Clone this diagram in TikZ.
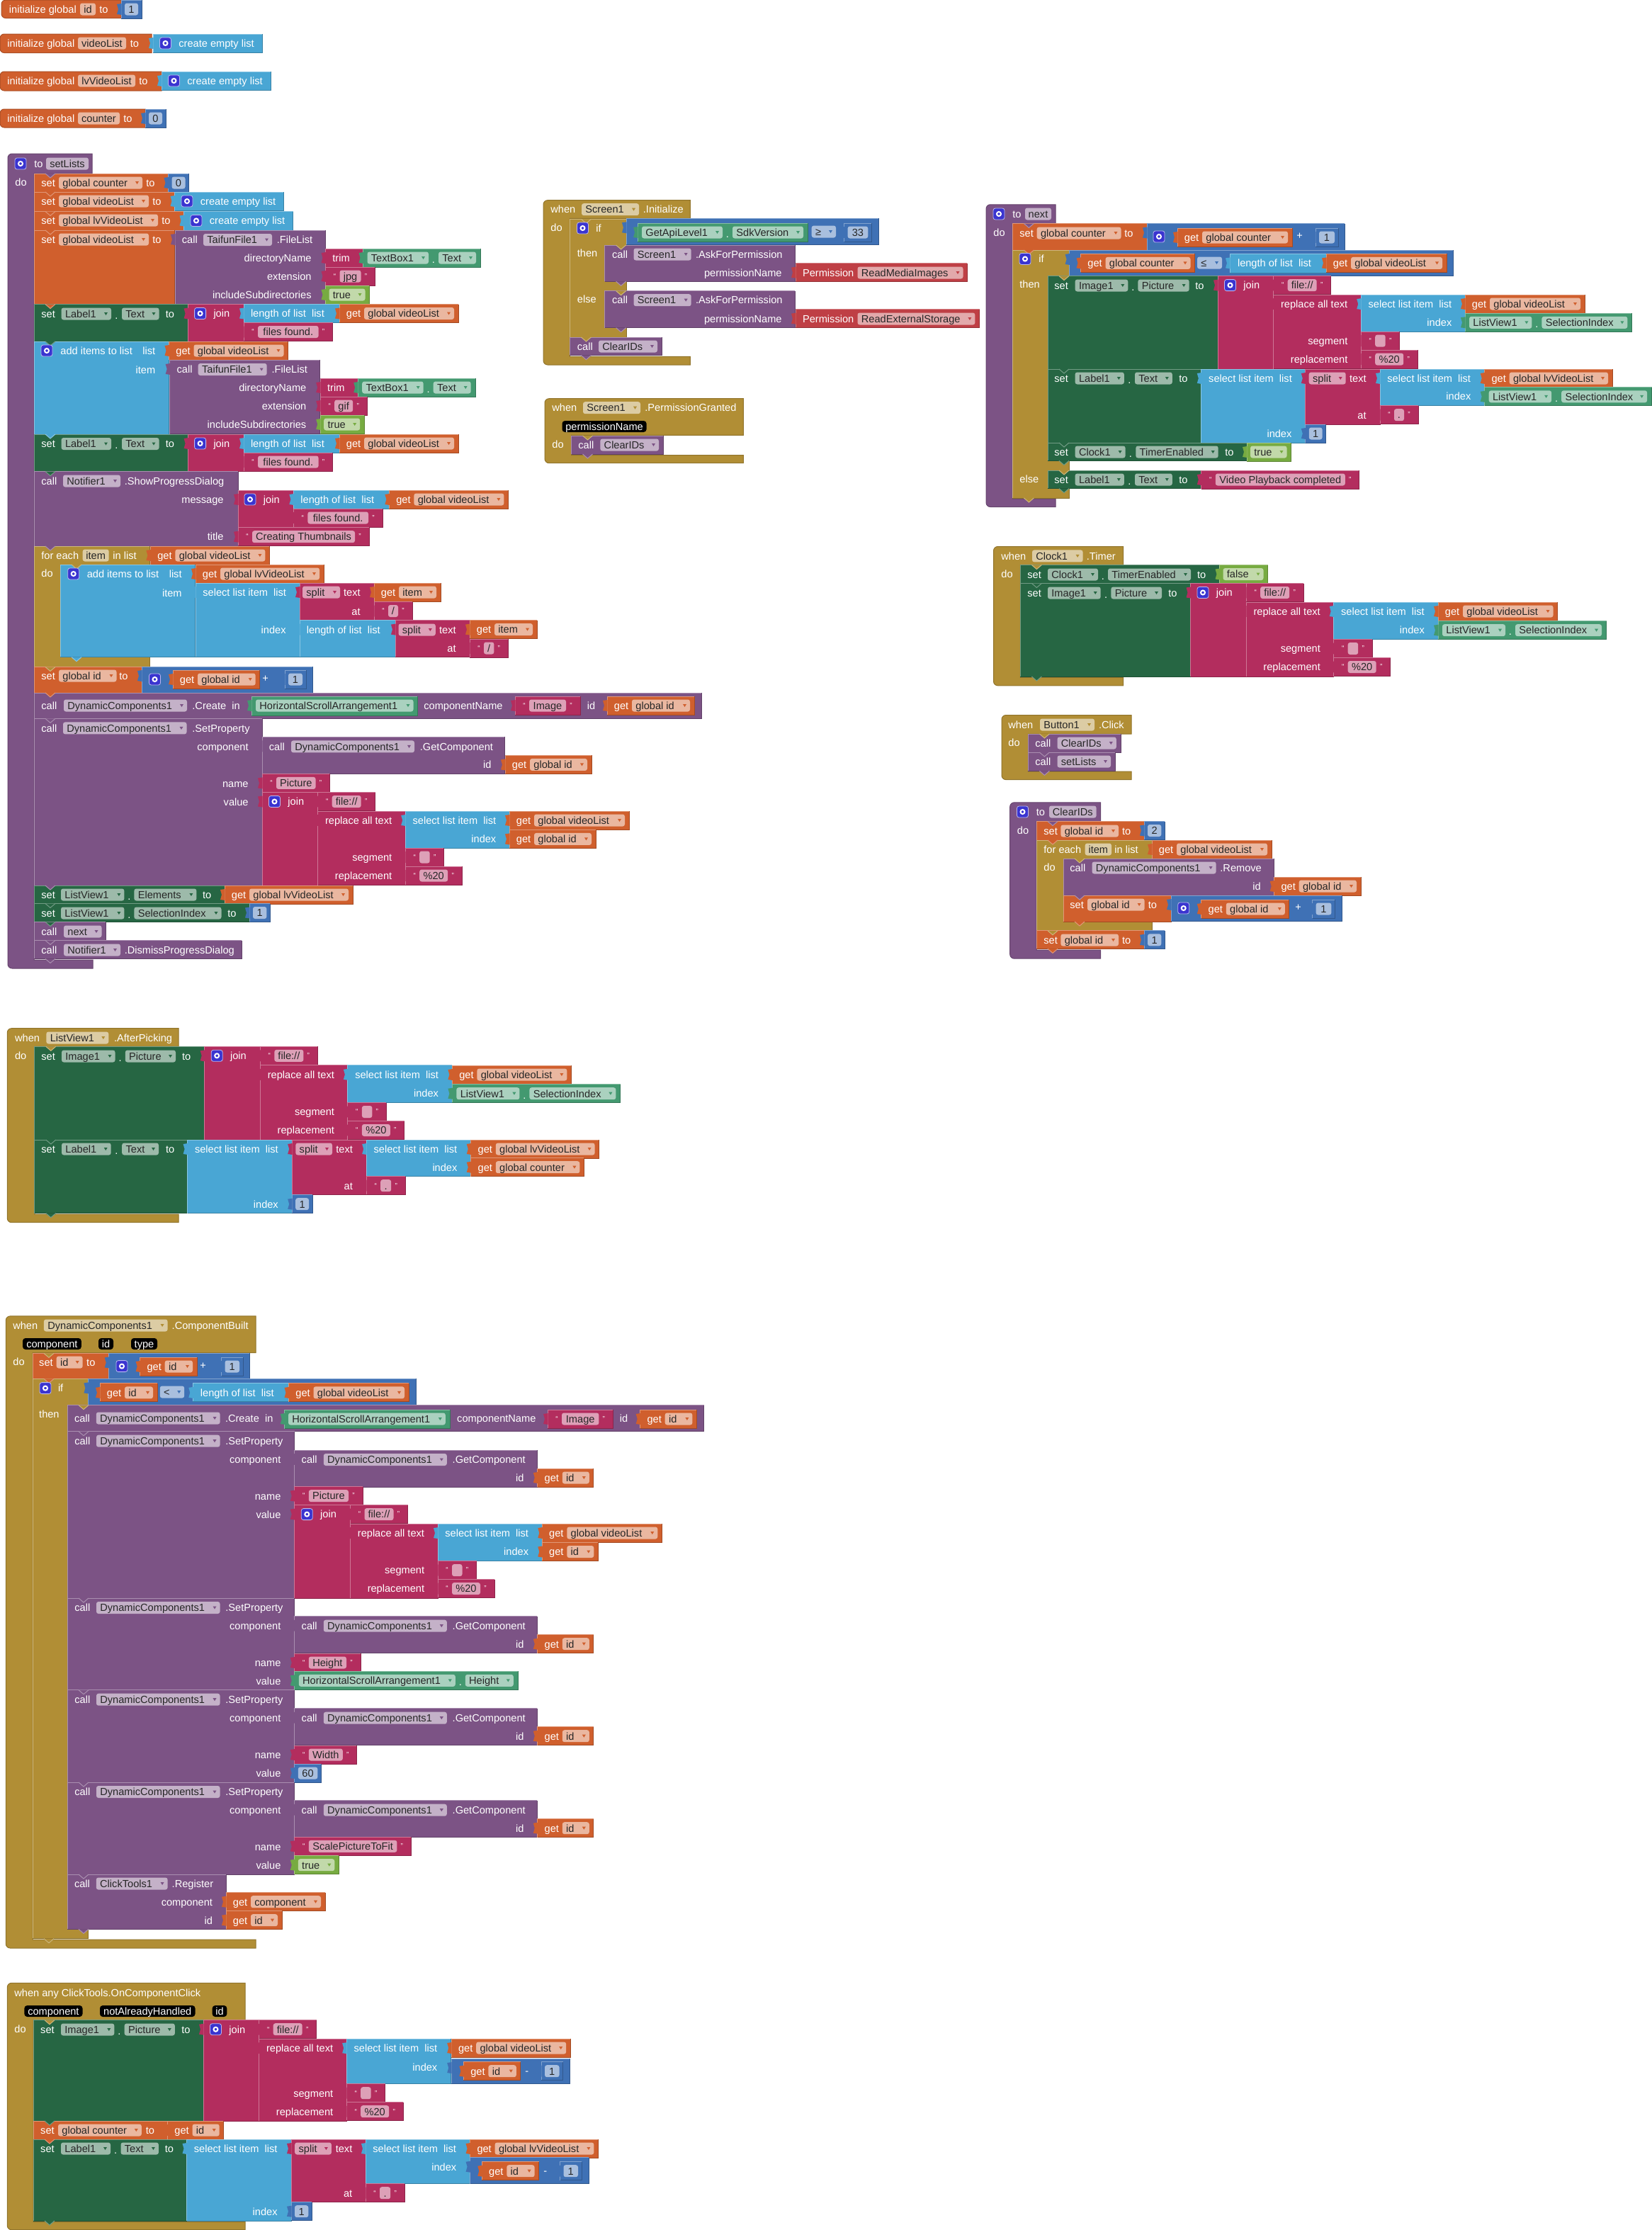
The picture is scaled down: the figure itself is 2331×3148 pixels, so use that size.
\documentclass[tikz,border=0pt]{standalone}
\usepackage{fontspec}
\setmainfont{Liberation Sans}
\definecolor{orng}{HTML}{D05F2D}
\definecolor{mblu}{HTML}{3F71B5}
\definecolor{lblu}{HTML}{49A6D4}
\definecolor{mgnt}{HTML}{B32D5E}
\definecolor{prpl}{HTML}{7C5385}
\definecolor{dgrn}{HTML}{266643}
\definecolor{pgrn}{HTML}{439970}
\definecolor{bgrn}{HTML}{77AB41}
\definecolor{gold}{HTML}{B18E35}
\definecolor{redd}{HTML}{BF3F45}
\definecolor{gearc}{HTML}{3A34D0}
\newcounter{nn}
\tikzset{
  wtxt/.style={text=white,inner sep=0pt,font=\fontsize{7.3}{8}\selectfont},
  ctxt/.style={text=black!85,inner sep=0pt,font=\fontsize{7.3}{8}\selectfont},
  edge/.style={line width=.5pt}
}
\newcommand{\lbl}[3]{\stepcounter{nn}\node[wtxt,anchor=mid west] (n\thenn) at ({#1},{#2}) {#3};}
\newcommand{\rlbl}[3]{\stepcounter{nn}\node[wtxt,anchor=mid east] (n\thenn) at ({#1},{#2}) {#3};}
\newcommand{\cnt}[3]{\stepcounter{nn}\node[wtxt,anchor=mid] (n\thenn) at ({#1},{#2}) {#3};}
\newcommand{\blk}[5]{\fill[#1] (#2,#3) rectangle (#4,#5);
  \draw[#1!65!white,edge] (#2,#5) -- (#2,#3) -- (#4,#3);
  \draw[#1!78!black,edge] (#4,#3) -- (#4,#5) -- (#2,#5);}
\newcommand{\vb}[5]{\blk{#1}{#2}{#3}{#4}{#5}
  \fill[#1] (#2+.5,#3+5) -- (#2-6,#3+6) -- (#2-4,#3+13) -- (#2-6,#3+20) -- (#2+.5,#3+21) -- cycle;}
\newcommand{\ntch}[3]{\fill[#1] (#2+16,#3) -- (#2+30,#3) -- (#2+23,#3+6) -- cycle;
  \draw[#1!65!white,edge] (#2+16,#3) -- (#2+23,#3+6) -- (#2+30,#3);}
\newcommand{\stm}[6]{\blk{#1}{#3}{#4}{#5}{#6}\ntch{#2}{#3}{#4}}
\newcommand{\cblk}[9]{\fill[#1,draw=#1!82!black,edge] (#4,#3) -- (#4,#5) -- (#6,#5) -- (#6,#7) -- (#9,#7) -- (#9,#8)
  [rounded corners=3pt] -- (#2,#8) -- (#2,#3) [sharp corners] -- cycle;}
\newcommand{\rnd}[5]{\fill[#1,draw=#1!82!black,edge] (#4,#3) -- (#4,#5) [rounded corners=3pt] -- (#2,#5) -- (#2,#3) [sharp corners] -- cycle;}
\newcommand{\chp}[5]{\fill[#1!45!white,rounded corners=1.5pt] (#2,#4-8.5) rectangle (#3,#4+8.5);
  \stepcounter{nn}\node[ctxt,anchor=mid west] (n\thenn) at ({#2+5},{#4}) {#5};
  \fill[#1] (#3-10,#4-2) -- (#3-5,#4-2) -- (#3-7.5,#4+2) -- cycle;}
\newcommand{\fch}[5]{\fill[#1!45!white,rounded corners=1.5pt] (#2,#4-8.5) rectangle (#3,#4+8.5);
  \stepcounter{nn}\node[ctxt,anchor=mid] (n\thenn) at ({(#2+#3)/2},{#4}) {#5};}
\newcommand{\blab}[4]{\fill[black,rounded corners=2pt] (#1,#3-8) rectangle (#2,#3+8);
  \cnt{(#1+#2)/2}{#3}{#4}}
\newcommand{\gear}[2]{\fill[gearc,draw=white!65!gearc,rounded corners=1.5pt,line width=.4pt] (#1,#2-8) rectangle (#1+16,#2+8);
  \draw[white,line width=1pt] (#1+8,#2) circle (1.5pt);}
\newcommand{\getb}[4]{\vb{orng}{#1}{#2}{#1+#3}{#2+26}\lbl{#1+9.5}{#2+13}{get}\chp{orng}{#1+35}{#1+#3-6}{#2+13}{#4}}
\newcommand{\strb}[4]{\vb{mgnt}{#1}{#2}{#1+#3}{#2+26}\cnt{#1+13}{#2+11}{\tiny“}\cnt{#1+#3-13}{#2+11}{\tiny”}
  \fch{mgnt}{#1+20}{#1+#3-20}{#2+13}{#4}}
\newcommand{\numb}[4]{\vb{mblu}{#1}{#2}{#1+#3}{#2+26}\fch{mblu}{#1+5}{#1+#3-5}{#2+13}{#4}}
\newcommand{\boolb}[4]{\vb{bgrn}{#1}{#2}{#1+#3}{#2+26}\chp{bgrn}{#1+5}{#1+#3-6}{#2+13}{#4}}
\newcommand{\propb}[6]{\pgfmathsetmacro{\pa}{#1+6+#4}\pgfmathsetmacro{\pb}{\pa+14}\pgfmathsetmacro{\pc}{\pb+#6}
  \vb{pgrn}{#1}{#2}{\pc+6.5}{#2+26}\chp{pgrn}{#1+6}{\pa}{#2+13}{#3}\cnt{\pa+7}{#2+15}{.}\chp{pgrn}{\pb}{\pc}{#2+13}{#5}}
\newcommand{\mkl}[2]{\vb{lblu}{#1}{#2}{#1+154}{#2+26.5}\gear{#1+9.5}{#2+13}\lbl{#1+36}{#2+13}{create empty list}}
\newcommand{\stpr}[9]{\lbl{#1}{#2}{set}\chp{dgrn}{#3}{#4}{#2}{#5}\cnt{(#4+#6)/2}{#2+2}{.}\chp{dgrn}{#6}{#7}{#2}{#8}\lbl{#9}{#2}{to}}
\newcommand{\slct}[5]{\vb{lblu}{#1}{#3}{#2}{#4}\lbl{#1+10}{#3+13}{select list item\ \ list}\rlbl{#2-19}{#5}{index}}
\newcommand{\rplc}[3]{\vb{mgnt}{#1}{#2}{#1+123.5}{#2+#3+52.5}\lbl{#1+10}{#2+13}{replace all text}
  \slct{#1+123.5}{#1+271}{#2}{#2+#3}{#2+39.5}
  \rlbl{#1+105}{#2+#3+13}{segment}\rlbl{#1+105}{#2+#3+39}{replacement}
  \strb{#1+123.5}{#2+#3}{54.5}{}\strb{#1+123.5}{#2+#3+26}{80}{\%20}}
\newcommand{\jrp}[4]{\vb{mgnt}{#1}{#2}{#1+78.7}{#2+#3}\gear{#1+9.5}{#2+13}\lbl{#1+36}{#2+13}{join}
  \strb{#1+78.7}{#2}{81}{file://}\rplc{#1+78.7}{#2+26.5}{#4}}
\newcommand{\jlen}[2]{\vb{mgnt}{#1}{#2}{#1+78.4}{#2+52.5}\gear{#1+9}{#2+13}\lbl{#1+35.5}{#2+13}{join}
  \vb{lblu}{#1+78.4}{#2}{#1+213.4}{#2+26}\lbl{#1+88}{#2+13}{length of list\ \ list}
  \getb{#1+213.4}{#2}{168}{global videoList}\strb{#1+78.4}{#2+26}{125.6}{files found.}}
\newcommand{\flist}[4]{\vb{prpl}{#1}{#2}{#1+212}{#2+104.5}\lbl{#1+9.5}{#2+13.5}{call}\chp{prpl}{#1+40}{#1+137}{#2+13.5}{TaifunFile1}\lbl{#1+143.5}{#2+13.5}{.FileList}
  \rlbl{#1+193}{#2+39.5}{directoryName}\rlbl{#1+193}{#2+65.5}{extension}\rlbl{#1+193}{#2+91.5}{includeSubdirectories}
  \vb{mgnt}{#1+212.5}{#2+26}{#1+265.5}{#2+52}\lbl{#1+222}{#2+39}{trim}\propb{#1+265.5}{#2+26}{TextBox1}{86.5}{Text}{53}
  \strb{#1+212.5}{#2+52}{#4}{#3}\boolb{#1+212.5}{#2+78}{62}{true}}
\newcommand{\gcmp}[4]{\vb{prpl}{#1}{#2}{#1+342.5}{#2+52}\lbl{#1+9.5}{#2+13.5}{call}\chp{prpl}{#1+41}{#1+215}{#2+13.5}{DynamicComponents1}\lbl{#1+222.5}{#2+13.5}{.GetComponent}
  \rlbl{#1+324}{#2+39}{id}\getb{#1+343}{#2+26}{#4}{#3}}
\newcommand{\spty}[5]{\stm{prpl}{#5}{#1}{#3}{#2}{#4}\lbl{#1+10}{#3+13.5}{call}\chp{prpl}{#1+41}{#1+215.5}{#3+13.5}{DynamicComponents1}\lbl{#1+223}{#3+13.5}{.SetProperty}
  \rlbl{#2-19}{#3+39.5}{component}\rlbl{#2-19}{#3+91.5}{name}\rlbl{#2-19}{#3+117.5}{value}}
\begin{document}
\begin{tikzpicture}[x=.5pt,y=-.5pt]
\useasboundingbox (0,0) rectangle (2331,3148);
\rnd{orng}{2}{0}{171}{25.5}
\lbl{12.5}{13}{initialize global}
\fch{orng}{113}{135}{13}{id}
\lbl{140}{13}{to}
\numb{171}{0}{29}{1}
\rnd{orng}{0}{48}{214}{74.5}
\lbl{10}{61}{initialize global}
\fch{orng}{110}{178}{61}{videoList}
\lbl{183.5}{61}{to}
\mkl{216}{48}
\rnd{orng}{0}{101}{228}{128}
\lbl{10}{114}{initialize global}
\fch{orng}{110}{191}{114}{lvVideoList}
\lbl{196}{114}{to}
\mkl{228}{101}
\rnd{orng}{0}{154}{205}{180}
\lbl{10}{167}{initialize global}
\fch{orng}{110}{169}{167}{counter}
\lbl{174}{167}{to}
\numb{205}{154}{29}{0}
\cblk{prpl}{11}{217}{130}{245}{48}{1355}{1367}{131}
\gear{21}{231}
\lbl{48}{231}{to}
\fch{prpl}{65}{125}{231}{setLists}
\lbl{21}{257}{do}
\stm{orng}{prpl}{48}{245}{237.5}{271}
\lbl{58}{258}{set}
\chp{orng}{83}{201}{258}{global counter}
\lbl{206}{258}{to}
\numb{237.5}{245}{29}{0}
\stm{orng}{orng}{48}{271}{246.5}{298.5}
\lbl{58}{284}{set}
\chp{orng}{83}{210}{284}{global videoList}
\lbl{215}{284}{to}
\mkl{246.5}{271}
\stm{orng}{orng}{48}{298.5}{259.5}{325}
\lbl{58}{311}{set}
\chp{orng}{83}{223}{311}{global lvVideoList}
\lbl{228}{311}{to}
\mkl{259.5}{298.5}
\stm{orng}{orng}{48}{325}{246.5}{429.5}
\lbl{58}{338}{set}
\chp{orng}{83}{210}{338}{global videoList}
\lbl{215}{338}{to}
\flist{247}{325}{jpg}{70}
\stm{dgrn}{orng}{48}{429.5}{265}{482}
\stpr{58}{443}{86.6}{157}{Label1}{172}{224.5}{Text}{233.5}
\jlen{265.6}{429.5}
\stm{lblu}{dgrn}{48}{482}{238.5}{613}
\gear{58}{495}
\lbl{85}{495}{add items to list}
\rlbl{219.6}{495}{list}
\rlbl{219.6}{522}{item}
\getb{238.5}{482}{168}{global videoList}
\flist{239.7}{508}{gif}{66}
\stm{dgrn}{lblu}{48}{613}{265}{665.6}
\stpr{58}{626.5}{86.6}{157}{Label1}{172}{224.5}{Text}{233.5}
\jlen{265.6}{613}
\stm{prpl}{dgrn}{48}{665.6}{336}{771}
\lbl{58}{679}{call}
\chp{prpl}{89}{170}{679}{Notifier1}
\lbl{175.5}{679}{.ShowProgressDialog}
\rlbl{316}{705}{message}
\rlbl{316}{757.7}{title}
\jlen{336}{692}
\strb{336}{744.7}{185}{Creating Thumbnails}
\stm{gold}{prpl}{48}{771}{211}{941.5}
\lbl{58}{784}{for each}
\fch{gold}{116.7}{153.7}{784}{item}
\lbl{159}{784}{in list}
\getb{212.4}{771}{168}{global videoList}
\lbl{58}{809}{do}
\stm{lblu}{gold}{85}{797}{275.5}{927.6}
\gear{95.7}{810}
\lbl{122.4}{810}{add items to list}
\rlbl{257}{810}{list}
\rlbl{257}{837}{item}
\getb{276}{797}{181}{global lvVideoList}
\slct{276}{423}{823}{927.6}{889}
\vb{mgnt}{423}{823}{528}{875.6}
\chp{mgnt}{427}{480}{836}{split}
\rlbl{509}{836}{text}
\rlbl{509}{863}{at}
\getb{528}{823}{94}{item}
\strb{528}{849.5}{54}{/}
\vb{lblu}{423}{875.6}{558}{927.6}
\lbl{432.4}{889}{length of list\ \ list}
\vb{mgnt}{558}{875.6}{663}{927.6}
\chp{mgnt}{562.5}{614.8}{889}{split}
\rlbl{644}{889}{text}
\rlbl{644}{915}{at}
\getb{663}{875.6}{95}{item}
\strb{663}{902}{54.4}{/}
\ntch{lblu}{85}{927.6}
\stm{orng}{gold}{48}{941.5}{200}{978}
\lbl{58}{954}{set}
\chp{orng}{83}{164.5}{954}{global id}
\lbl{168}{954}{to}
\vb{mblu}{200}{941}{441}{978}
\gear{210.5}{959}
\getb{244}{946}{122.7}{global id}
\lbl{370}{957}{+}
\numb{402}{946}{30}{1}
\stm{prpl}{orng}{48}{978}{990}{1014.4}
\lbl{58}{996}{call}
\chp{prpl}{90}{264}{996}{DynamicComponents1}
\lbl{271}{996}{.Create}
\lbl{327}{996}{in}
\vb{pgrn}{355}{983}{589}{1010}
\chp{pgrn}{361}{583.5}{996}{HorizontalScrollArrangement1}
\lbl{598}{996}{componentName}
\strb{727}{983}{92}{Image}
\lbl{828.5}{996}{id}
\getb{857}{983}{123}{global id}
\spty{48}{370}{1014.4}{1250}{prpl}
\gcmp{370}{1040.4}{global id}{122}
\strb{370}{1092.4}{95.6}{Picture}
\jrp{370}{1118.5}{131.5}{52}
\getb{719}{1145}{169}{global videoList}
\getb{719}{1171.4}{122}{global id}
\stm{dgrn}{prpl}{48}{1250}{317}{1275.5}
\stpr{58}{1263}{86}{175.4}{ListView1}{189.4}{277.4}{Elements}{285.7}
\getb{317}{1250}{181}{global lvVideoList}
\stm{dgrn}{dgrn}{48}{1275.5}{352}{1301.5}
\stpr{58}{1289}{86}{175.4}{ListView1}{189.4}{312.5}{SelectionIndex}{321}
\numb{352}{1275.5}{29.4}{1}
\stm{prpl}{dgrn}{48}{1301.5}{149}{1327.5}
\lbl{58}{1315}{call}
\chp{prpl}{90}{143.5}{1315}{next}
\stm{prpl}{prpl}{48}{1327.5}{341}{1353.5}
\lbl{58}{1341}{call}
\chp{prpl}{90}{170}{1341}{Notifier1}
\lbl{175.4}{1341}{.DismissProgressDialog}
\ntch{prpl}{48}{1353.5}
\cblk{gold}{767}{282.7}{974.4}{308.3}{804.4}{503.3}{515}{974.4}
\lbl{777}{295.7}{when}
\chp{gold}{821}{902}{295.7}{Screen1}
\lbl{907.5}{295.7}{.Initialize}
\lbl{777}{321}{do}
\stm{gold}{gold}{804.4}{309.3}{884}{476}
\gear{814.5}{322}
\lbl{841}{322}{if}
\lbl{814.5}{357.7}{then}
\lbl{814.5}{422.7}{else}
\vb{mblu}{884}{308.3}{1240}{345.7}
\propb{900}{315}{GetApiLevel1}{114}{SdkVersion}{100}
\chp{mblu}{1145.7}{1180}{327}{≥}
\numb{1191.6}{315}{38.7}{33}
\stm{prpl}{gold}{853.6}{346}{1122}{397.3}
\lbl{863.7}{359}{call}
\chp{prpl}{894.5}{975.7}{359}{Screen1}
\lbl{981.6}{359}{.AskForPermission}
\rlbl{1104}{385}{permissionName}
\vb{redd}{1123}{371.7}{1365.4}{397.3}
\lbl{1132.7}{385}{Permission}
\chp{redd}{1210.5}{1359.5}{385}{ReadMediaImages}
\ntch{prpl}{853.6}{397.3}
\stm{prpl}{gold}{853.6}{410.7}{1122}{462.7}
\lbl{863.7}{423.7}{call}
\chp{prpl}{894.5}{975.7}{423.7}{Screen1}
\lbl{981.6}{423.7}{.AskForPermission}
\rlbl{1104}{450}{permissionName}
\vb{redd}{1123}{436.7}{1382.7}{462.7}
\lbl{1132.7}{450}{Permission}
\chp{redd}{1210.5}{1376.4}{450}{ReadExternalStorage}
\ntch{prpl}{853.6}{462.7}
\stm{prpl}{gold}{804.4}{476}{934.4}{501.7}
\lbl{814.5}{489}{call}
\chp{prpl}{845}{928}{489}{ClearIDs}
\ntch{prpl}{804.4}{501.7}
\cblk{gold}{769}{562.7}{1049.4}{614.3}{806.5}{642.7}{653.7}{1049.4}
\lbl{779}{575.7}{when}
\chp{gold}{823}{904}{575.7}{Screen1}
\lbl{910}{575.7}{.PermissionGranted}
\blab{793.5}{912.6}{602}{permissionName}
\lbl{779}{627}{do}
\stm{prpl}{gold}{806.5}{615}{936.5}{641}
\lbl{816}{628}{call}
\chp{prpl}{847.3}{930}{628}{ClearIDs}
\ntch{prpl}{806.5}{641}
\cblk{prpl}{1392}{288.75}{1490}{315.5}{1429.4}{704}{715.5}{1490}
\gear{1402}{302}
\lbl{1429}{302}{to}
\fch{prpl}{1447}{1484}{302}{next}
\lbl{1402}{328}{do}
\stm{orng}{prpl}{1429.4}{315.5}{1619}{353}
\lbl{1439}{329}{set}
\chp{orng}{1463.7}{1582.5}{329}{global counter}
\lbl{1587}{329}{to}
\vb{mblu}{1619}{315.5}{1898}{353}
\gear{1628}{334}
\getb{1662}{322}{162}{global counter}
\lbl{1830}{332}{+}
\numb{1857}{322}{32}{1}
\stm{gold}{orng}{1429.4}{353}{1509.6}{703}
\gear{1439}{365.5}
\lbl{1466}{365.5}{if}
\lbl{1439}{401.7}{then}
\lbl{1439}{675.8}{else}
\vb{mblu}{1509.6}{353}{2051.6}{389.6}
\getb{1525.5}{358.4}{161}{global counter}
\chp{mblu}{1690}{1725}{371}{≤}
\vb{lblu}{1736}{358.4}{1872}{385}
\lbl{1746.6}{371.4}{length of list\ \ list}
\getb{1872}{358.4}{170}{global videoList}
\stm{dgrn}{gold}{1479}{389.6}{1719}{521}
\stpr{1488}{403}{1517.6}{1592.3}{Image1}{1606.4}{1678.6}{Picture}{1687}
\jrp{1719}{389.6}{131.4}{52}
\getb{2068}{416}{169}{global videoList}
\propb{2068}{442.3}{ListView1}{88.4}{SelectionIndex}{121}
\stm{dgrn}{dgrn}{1479}{521}{1695.8}{625}
\stpr{1488}{534}{1517.6}{1586.8}{Label1}{1602}{1654.8}{Text}{1664}
\slct{1695.8}{1842.8}{521}{625}{612}
\vb{mgnt}{1842.8}{521}{1948}{599}
\chp{mgnt}{1847.7}{1899.7}{534}{split}
\rlbl{1929}{534}{text}
\rlbl{1929}{586}{at}
\slct{1948}{2095.7}{521}{572.7}{559.7}
\getb{2095.7}{521}{180.3}{global lvVideoList}
\propb{2095.7}{546.8}{ListView1}{88.4}{SelectionIndex}{121}
\strb{1948}{572.7}{54}{.}
\numb{1842.8}{599}{28.7}{1}
\stm{dgrn}{dgrn}{1479}{625}{1760}{650.4}
\stpr{1488}{638}{1517.6}{1588.6}{Clock1}{1603.3}{1719.7}{TimerEnabled}{1729}
\boolb{1760}{625}{62.5}{true}
\ntch{dgrn}{1479}{650.4}
\stm{dgrn}{gold}{1479}{664}{1695.8}{689.6}
\stpr{1488}{677}{1517.6}{1586.8}{Label1}{1602}{1654.8}{Text}{1664}
\strb{1695.8}{664}{223}{Video Playback completed}
\ntch{dgrn}{1479}{689.6}
\ntch{gold}{1429.4}{703}
\cblk{gold}{1402.5}{771.5}{1585.5}{797.5}{1440.4}{956.3}{967.8}{1585.5}
\lbl{1413}{784.9}{when}
\chp{gold}{1457}{1528.6}{784.9}{Clock1}
\lbl{1533.5}{784.9}{.Timer}
\lbl{1413}{810}{do}
\stm{dgrn}{gold}{1440.4}{797.5}{1721.5}{823.5}
\stpr{1450}{811}{1479}{1550}{Clock1}{1564}{1681}{TimerEnabled}{1689.7}
\boolb{1721.5}{797.5}{68}{false}
\stm{dgrn}{dgrn}{1440.4}{823.5}{1680.5}{955}
\stpr{1450}{837}{1479}{1553.7}{Image1}{1568.4}{1640}{Picture}{1649}
\jrp{1680.5}{823.5}{131.5}{52.5}
\getb{2030}{850}{168.5}{global videoList}
\propb{2030}{876.7}{ListView1}{89}{SelectionIndex}{122}
\ntch{dgrn}{1440.4}{955}
\cblk{gold}{1414}{1009.5}{1597}{1036}{1451.4}{1089}{1100.6}{1597}
\lbl{1423}{1023}{when}
\chp{gold}{1468}{1545}{1023}{Button1}
\lbl{1550.6}{1023}{.Click}
\lbl{1423}{1048}{do}
\stm{prpl}{gold}{1451.4}{1036}{1582}{1062}
\lbl{1461}{1049}{call}
\chp{prpl}{1492.5}{1575.8}{1049}{ClearIDs}
\stm{prpl}{prpl}{1451.4}{1062}{1574.5}{1088.3}
\lbl{1461}{1075}{call}
\chp{prpl}{1492.5}{1568}{1075}{setLists}
\ntch{prpl}{1451.4}{1088.3}
\cblk{prpl}{1425.7}{1132.8}{1553.7}{1159.5}{1463}{1341}{1353.2}{1553.7}
\gear{1435.5}{1146}
\lbl{1462.5}{1146}{to}
\fch{prpl}{1481}{1547.6}{1146}{ClearIDs}
\lbl{1435.5}{1172}{do}
\stm{orng}{prpl}{1463}{1159.5}{1615}{1186}
\lbl{1473}{1173}{set}
\chp{orng}{1497.4}{1579}{1173}{global id}
\lbl{1583.7}{1173}{to}
\numb{1615}{1159.5}{29.3}{2}
\stm{gold}{orng}{1463}{1186}{1626}{1313.8}
\lbl{1473}{1199}{for each}
\fch{gold}{1531.7}{1569}{1199}{item}
\lbl{1573}{1199}{in list}
\getb{1626}{1186}{169}{global videoList}
\lbl{1473}{1224}{do}
\stm{prpl}{gold}{1501}{1212}{1798.7}{1264}
\lbl{1510}{1225}{call}
\chp{prpl}{1541.5}{1716.6}{1225}{DynamicComponents1}
\lbl{1722}{1225}{.Remove}
\rlbl{1780}{1251}{id}
\getb{1798.7}{1238}{122.3}{global id}
\stm{orng}{prpl}{1501}{1264}{1653}{1301}
\lbl{1510}{1277}{set}
\chp{orng}{1535}{1615.6}{1277}{global id}
\lbl{1620.5}{1277}{to}
\vb{mblu}{1653}{1264}{1894}{1300.8}
\gear{1662.7}{1282}
\getb{1695.8}{1270}{124}{global id}
\lbl{1828}{1280}{+}
\numb{1852.6}{1270}{31.8}{1}
\ntch{orng}{1501}{1301}
\stm{orng}{gold}{1463}{1313.8}{1615}{1339.4}
\lbl{1473}{1327}{set}
\chp{orng}{1497.4}{1579}{1327}{global id}
\lbl{1583.7}{1327}{to}
\numb{1615}{1313.8}{29.3}{1}
\ntch{orng}{1463}{1339.4}
\cblk{gold}{10.3}{1451.7}{252}{1477.3}{48.8}{1714}{1725.7}{252}
\lbl{20.7}{1465}{when}
\chp{gold}{65.4}{153.3}{1465}{ListView1}
\lbl{160.7}{1465}{.AfterPicking}
\lbl{20.7}{1490}{do}
\stm{dgrn}{gold}{48.8}{1477.3}{288.7}{1609}
\stpr{58}{1491}{87}{162.5}{Image1}{176.8}{248}{Picture}{256.6}
\jrp{288.7}{1477.3}{131.7}{52.7}
\getb{638.4}{1504}{168}{global videoList}
\propb{638.4}{1530.7}{ListView1}{89}{SelectionIndex}{122}
\stm{dgrn}{dgrn}{48.8}{1609}{264.6}{1712.7}
\stpr{58}{1622}{87}{156.7}{Label1}{172.2}{224}{Text}{233.6}
\slct{264.6}{412.2}{1609}{1712.7}{1700}
\vb{mgnt}{412.2}{1609}{517.2}{1686.7}
\chp{mgnt}{417.3}{469}{1622}{split}
\rlbl{498.3}{1622}{text}
\rlbl{498.3}{1674}{at}
\slct{517.2}{664.8}{1609}{1660.7}{1648}
\getb{664.8}{1609}{180.8}{global lvVideoList}
\getb{664.8}{1634.7}{159.6}{global counter}
\strb{517.2}{1660.7}{55}{.}
\numb{412.2}{1686.7}{28.8}{1}
\ntch{dgrn}{48.8}{1712.7}
\cblk{gold}{8.3}{1857.9}{361}{1909.6}{46}{2738}{2750}{361}
\lbl{17.9}{1871}{when}
\chp{gold}{61.9}{236.6}{1871}{DynamicComponents1}
\lbl{242.3}{1871}{.ComponentBuilt}
\blab{32}{114.8}{1897}{component}
\blab{139}{160}{1897}{id}
\blab{185}{222}{1897}{type}
\lbl{18}{1922.5}{do}
\stm{orng}{gold}{46}{1910.4}{153.7}{1946.4}
\lbl{54.8}{1923}{set}
\chp{orng}{79.7}{116.7}{1923}{id}
\lbl{121.8}{1923}{to}
\vb{mblu}{153.7}{1910.4}{352.7}{1946.4}
\gear{164}{1928.6}
\getb{197.7}{1916}{80.3}{id}
\lbl{282}{1927}{+}
\numb{312.5}{1916}{30.5}{1}
\stm{gold}{orng}{46}{1946.4}{124.4}{2736.7}
\gear{56}{1959.6}
\lbl{81.6}{1959.6}{if}
\lbl{54.8}{1996}{then}
\vb{mblu}{124.4}{1946.4}{587.4}{1983.6}
\getb{141}{1952.9}{81}{id}
\chp{mblu}{225.8}{260.2}{1965}{<}
\vb{lblu}{272.3}{1952.9}{407.5}{1978.9}
\lbl{282.5}{1966}{length of list\ \ list}
\getb{407.5}{1952.9}{169.5}{global videoList}
\stm{prpl}{gold}{95}{1983.6}{993.6}{2020.7}
\lbl{104.6}{2002}{call}
\chp{prpl}{135.8}{310.6}{2002}{DynamicComponents1}
\lbl{317.6}{2002}{.Create}
\lbl{373.7}{2002}{in}
\vb{pgrn}{401.8}{1990}{635.8}{2016.8}
\chp{pgrn}{407}{628.8}{2003}{HorizontalScrollArrangement1}
\lbl{644.8}{2002}{componentName}
\strb{773}{1990}{92.4}{Image}
\lbl{874.4}{2002}{id}
\getb{903.7}{1990}{79.7}{id}
\spty{95}{415.8}{2020.7}{2256}{prpl}
\gcmp{415.8}{2047}{id}{79}
\strb{415.8}{2098.6}{96.2}{Picture}
\jrp{415.8}{2124.6}{131.4}{52.5}
\getb{765.3}{2151}{169}{global videoList}
\getb{765.3}{2177.5}{79}{id}
\spty{95}{415.8}{2256}{2385.7}{prpl}
\gcmp{415.8}{2281.7}{id}{79}
\strb{415.8}{2334}{93.2}{Height}
\propb{415.8}{2359.3}{HorizontalScrollArrangement1}{221}{Height}{68}
\spty{95}{415.8}{2385.7}{2516}{prpl}
\gcmp{415.8}{2411.7}{id}{79}
\strb{415.8}{2464}{88}{Width}
\numb{415.8}{2490}{37.6}{60}
\spty{95}{415.8}{2516}{2646}{prpl}
\gcmp{415.8}{2541.7}{id}{79}
\strb{415.8}{2593.3}{164.6}{ScalePictureToFit}
\boolb{415.8}{2619.7}{62.5}{true}
\stm{prpl}{prpl}{95}{2646}{319}{2723.3}
\lbl{104.6}{2659}{call}
\chp{prpl}{135.8}{236.6}{2659}{ClickTools1}
\lbl{242.3}{2659}{.Register}
\rlbl{300.4}{2685.3}{component}
\rlbl{300.4}{2711.3}{id}
\getb{319}{2671.7}{140}{component}
\getb{319}{2697.7}{79}{id}
\ntch{prpl}{95}{2723.3}
\ntch{gold}{46}{2736.7}
\cblk{gold}{10.3}{2799.3}{346}{2851.7}{47}{3136.7}{3147.7}{346}
\lbl{20}{2812.7}{when any ClickTools.OnComponentClick}
\blab{34.4}{116.5}{2839}{component}
\blab{141}{275.5}{2839}{notAlreadyHandled}
\blab{299.7}{320.3}{2839}{id}
\lbl{20}{2864}{do}
\stm{dgrn}{gold}{47}{2851.7}{287}{2994}
\stpr{56.8}{2865}{86}{161.3}{Image1}{175.7}{246.8}{Picture}{256}
\jrp{287}{2851.7}{142.3}{63.5}
\getb{637.2}{2878}{168}{global videoList}
\vb{mblu}{637.2}{2906}{804.8}{2941.7}
\getb{654.4}{2910.7}{80.4}{id}
\lbl{741}{2923}{-}
\numb{764}{2910.7}{30.5}{1}
\stm{orng}{dgrn}{47}{2994}{236.5}{3020}
\lbl{56.8}{3007}{set}
\chp{orng}{82}{199.8}{3007}{global counter}
\lbl{205.5}{3007}{to}
\getb{236.5}{2994}{79.2}{id}
\stm{dgrn}{orng}{47}{3020}{263.5}{3135}
\stpr{56.8}{3033}{86}{156}{Label1}{170.5}{223.9}{Text}{232.5}
\slct{263.5}{411}{3020}{3135}{3122}
\vb{mgnt}{411}{3020}{516}{3108.7}
\chp{mgnt}{416.2}{467.9}{3033}{split}
\rlbl{497.7}{3033}{text}
\rlbl{497.7}{3096}{at}
\slct{516}{663.6}{3020}{3082.7}{3059}
\getb{663.6}{3020}{180.8}{global lvVideoList}
\vb{mblu}{663.6}{3045.7}{831}{3082.7}
\getb{680.3}{3051.7}{80.3}{id}
\lbl{767}{3064}{-}
\numb{790.5}{3051.7}{30.5}{1}
\strb{516}{3082.7}{55.2}{.}
\numb{411}{3108.7}{29.3}{1}
\ntch{dgrn}{47}{3135}
\end{tikzpicture}
\end{document}
